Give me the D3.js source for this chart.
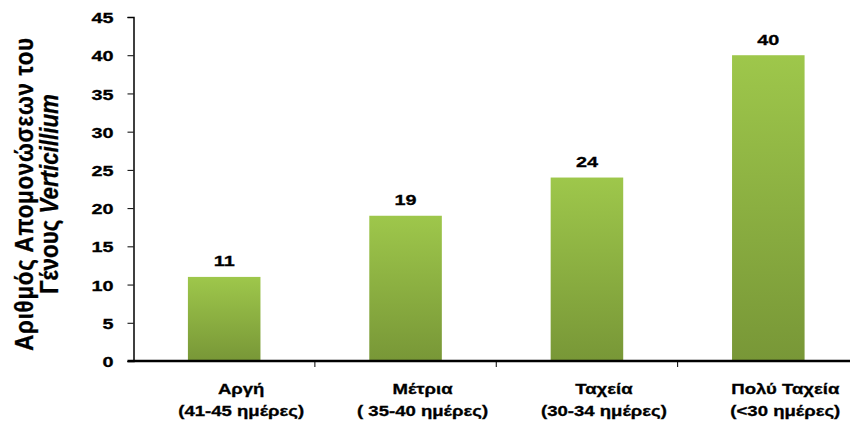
<!DOCTYPE html>
<html>
<head>
<meta charset="utf-8">
<script src="https://cdn.jsdelivr.net/npm/d3@7"></script>
<style>
  html, body { margin: 0; padding: 0; background: #fff; }
  svg { display: block; }
  text { font-family: "Liberation Sans", Arial, sans-serif; fill: #000; font-weight: bold;
         stroke: #000; stroke-width: 0.3px; }
</style>
</head>
<body>
<svg id="chart" width="850" height="425"></svg>
<script>
// Number of isolates per growth-rate class
const categories = ["Αργή", "Μέτρια", "Ταχεία", "Πολύ Ταχεία"];
const categorySub = ["(41-45 ημέρες)", "( 35-40  ημέρες)", "(30-34 ημέρες)", "(<30 ημέρες)"];
const isolates = [11, 19, 24, 40];
const yTicks = [0, 5, 10, 15, 20, 25, 30, 35, 40, 45];

// Text in this chart is set slightly wide
const WIDE = 1.28;

const svg = d3.select("#chart");
const margin = { left: 133.5, top: 17, bottom: 361 };
const plotRight = 859;

const x = d3.scaleBand()
  .domain(categories)
  .range([margin.left, plotRight])
  .paddingInner(0.6)
  .paddingOuter(0.3);

const y = d3.scaleLinear()
  .domain([0, 45])
  .range([margin.bottom, margin.top]);

// Vertical gradient for the bars
const defs = svg.append("defs");
const grad = defs.append("linearGradient")
  .attr("id", "barGrad")
  .attr("x1", 0).attr("y1", 0).attr("x2", 0).attr("y2", 1);
grad.append("stop").attr("offset", "0%").attr("stop-color", "#9ec74b");
grad.append("stop").attr("offset", "100%").attr("stop-color", "#789737");

// Bars
svg.append("g").selectAll("rect")
  .data(isolates)
  .join("rect")
  .attr("x", (d, i) => x(categories[i]))
  .attr("width", x.bandwidth())
  .attr("y", d => y(d))
  .attr("height", d => y(0) - y(d))
  .attr("fill", "url(#barGrad)");

// Value labels
svg.append("g").selectAll("text")
  .data(isolates)
  .join("text")
  .attr("transform", (d, i) =>
    `translate(${x(categories[i]) + x.bandwidth() / 2},${y(d) - 10.5}) scale(${WIDE},1)`)
  .attr("text-anchor", "middle")
  .style("font-size", "15.5px")
  .text(d => d);

// Y axis
const yAxis = svg.append("g")
  .attr("transform", `translate(${margin.left},0)`)
  .call(d3.axisLeft(y).tickValues(yTicks).tickSize(6));
yAxis.select(".domain").attr("stroke", "#000").attr("stroke-width", 1.5);
yAxis.selectAll(".tick line").attr("stroke", "#000");
yAxis.selectAll(".tick text")
  .attr("x", 0)
  .attr("dy", "0.36em")
  .attr("transform", `translate(-20,0) scale(${WIDE},1)`)
  .style("font-family", "'Liberation Sans', Arial, sans-serif")
  .style("font-weight", "bold")
  .style("font-size", "15.5px")
  .attr("fill", "#000");

// X axis with ticks on the category boundaries
const step = x.step();
const gap = step - x.bandwidth();
const bounds = d3.range(1, categories.length).map(i => x(categories[i]) - gap / 2);
svg.append("line")
  .attr("x1", margin.left - 6).attr("x2", plotRight)
  .attr("y1", y(0)).attr("y2", y(0))
  .attr("stroke", "#000").attr("stroke-width", 2.5);
svg.append("g").selectAll("line")
  .data(bounds)
  .join("line")
  .attr("x1", d => d).attr("x2", d => d)
  .attr("y1", y(0)).attr("y2", y(0) + 6)
  .attr("stroke", "#000").attr("stroke-width", 1);

// Category labels (two lines each), set a little right of the bar centre
const labelShift = 17;
const labels = svg.append("g").selectAll("text")
  .data(categories)
  .join("text")
  .attr("transform", d => `translate(${x(d) + x.bandwidth() / 2 + labelShift},394) scale(${WIDE},1)`)
  .attr("text-anchor", "middle")
  .style("font-size", "14.5px");
labels.append("tspan").attr("x", 0).text(d => d);
labels.append("tspan")
  .attr("x", 0)
  .attr("dy", 22)
  .text((d, i) => categorySub[i]);

// Y axis title: narrow along the line, tall across it
const title = svg.append("text")
  .attr("transform", "translate(0,194) rotate(-90) scale(0.93,1.08)")
  .attr("text-anchor", "middle")
  .style("font-size", "24px");
title.append("tspan").attr("x", 0).attr("y", 30.5)
  .style("letter-spacing", "0.8px")
  .text("Αριθμός Απομονώσεων του");
title.append("tspan").attr("x", 0).attr("y", 53.5).text("Γένους ");
title.append("tspan").style("font-style", "italic").text("Verticillium");
</script>
</body>
</html>
